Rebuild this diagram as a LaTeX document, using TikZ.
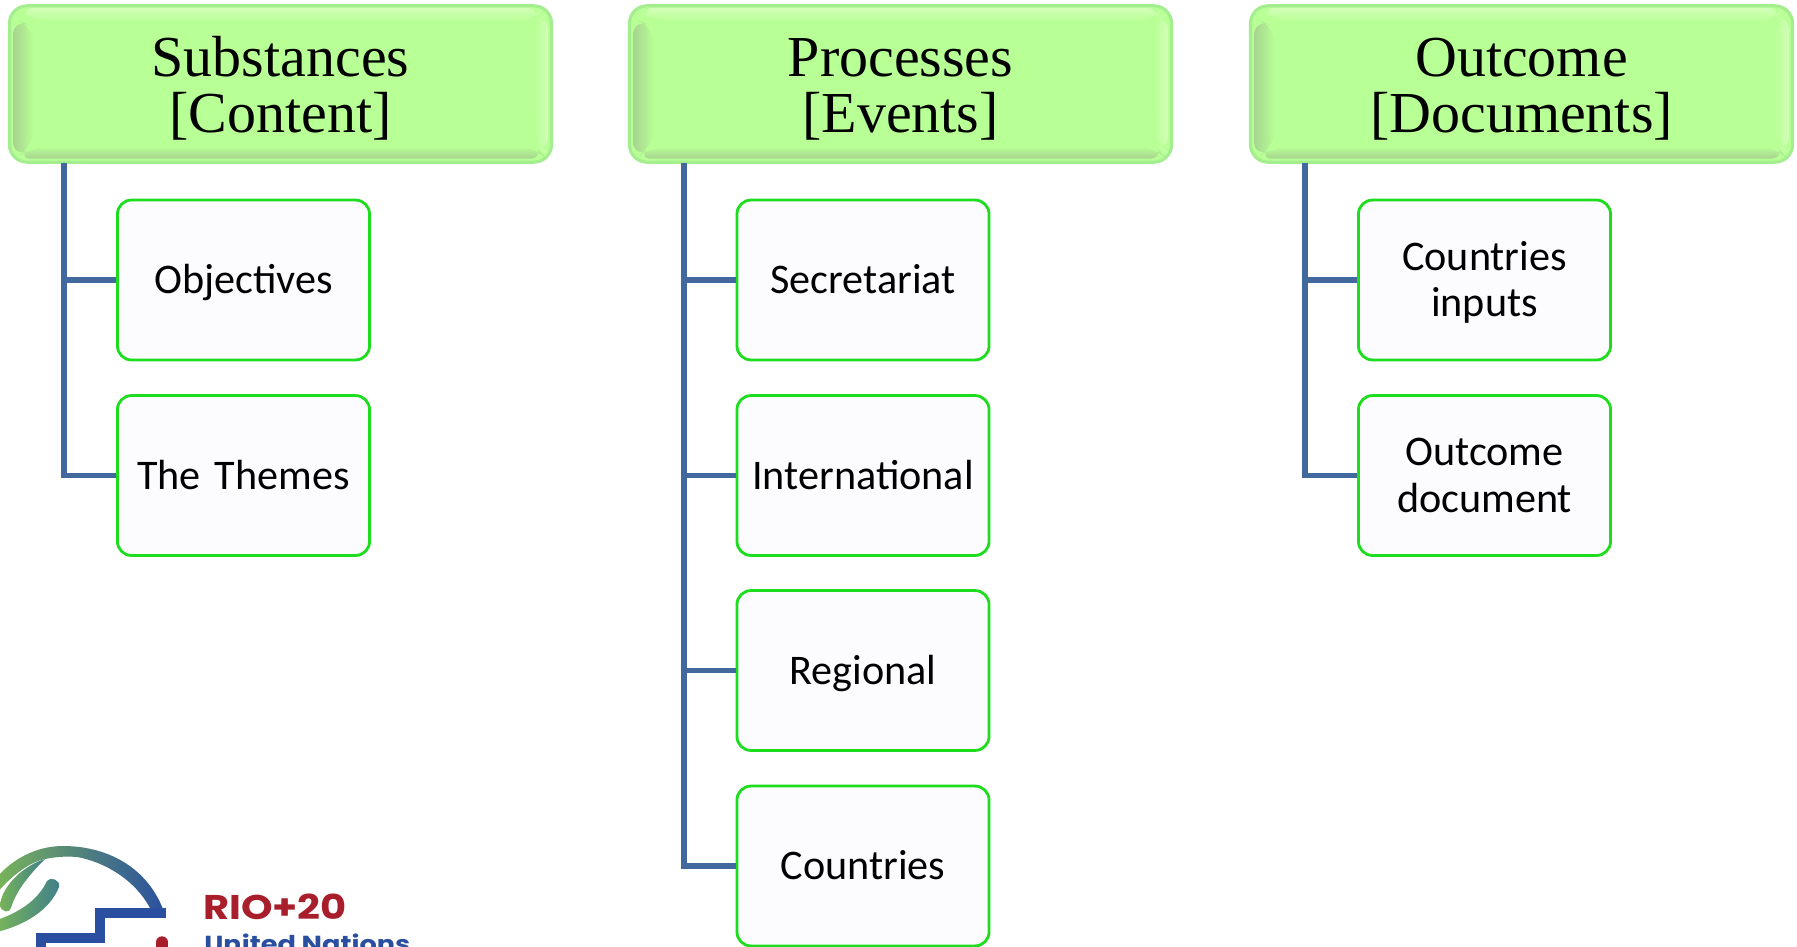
\documentclass[tikz,border=0pt]{standalone}
\usepackage{fontspec}
\setmainfont{Liberation Serif}
\setsansfont{Carlito}
\newfontfamily\logofont[FakeStretch=1.17]{Poppins}
\newcommand\headstrut{\rule{0pt}{28pt}}
\newcommand\itemstrut{\rule[-5pt]{0pt}{25.6pt}}
\definecolor{headfill}{HTML}{B8FF96}
\definecolor{headedge}{HTML}{A4EE90}
\definecolor{headdark}{HTML}{A6D48E}
\definecolor{headlight}{HTML}{D2FFB8}
\definecolor{itemedge}{HTML}{1EDC1E}
\definecolor{itemfill}{HTML}{FCFCFF}
\definecolor{spine}{HTML}{41699E}
\definecolor{logoblue}{HTML}{2A4FA0}
\definecolor{logoteal}{HTML}{3F7F8A}
\definecolor{logogreen}{HTML}{78B45A}
\definecolor{logored}{HTML}{A81E2A}
\tikzset{
  headbox/.style={rounded corners=10pt,fill=headfill,draw=headedge,line width=1.8pt,minimum width=308.5pt,minimum height=89pt,align=center,inner sep=0pt,font=\fontsize{33}{32}\selectfont,
    path picture={
      \coordinate (nw) at (path picture bounding box.north west);
      \coordinate (ne) at (path picture bounding box.north east);
      \coordinate (sw) at (path picture bounding box.south west);
      \coordinate (se) at (path picture bounding box.south east);
      \shade[left color=headdark,right color=headfill] ([shift={(2pt,-7pt)}]nw) -- ([shift={(14pt,-12pt)}]nw) -- ([shift={(14pt,9pt)}]sw) -- ([shift={(2pt,2pt)}]sw) -- cycle;
      \shade[top color=headfill,bottom color=headdark] ([shift={(14pt,9pt)}]sw) -- ([shift={(-9pt,9pt)}]se) -- ([shift={(-3pt,2pt)}]se) -- ([shift={(3pt,2pt)}]sw) -- cycle;
      \shade[top color=headlight,bottom color=headfill] ([shift={(5pt,-1pt)}]nw) -- ([shift={(-5pt,-1pt)}]ne) -- ([shift={(-10pt,-9pt)}]ne) -- ([shift={(14pt,-9pt)}]nw) -- cycle;
      \shade[left color=headfill,right color=headlight] ([shift={(-10pt,-9pt)}]ne) -- ([shift={(-2pt,-4pt)}]ne) -- ([shift={(-2pt,5pt)}]se) -- ([shift={(-9pt,9pt)}]se) -- cycle;
    }},
  itembox/.style={rounded corners=8pt,fill=itemfill,draw=itemedge,line width=1.6pt,minimum height=91pt,text width=143.5pt,align=center,inner sep=0pt,font=\sffamily\fontsize{24}{26.5}\selectfont},
  branch/.style={spine,line width=3.2pt,line cap=butt,line join=miter},
  stairs/.style={logoblue,line width=5.7pt,line cap=butt,line join=miter},
}
\begin{document}
\begin{tikzpicture}[x=0.02cm,y=-0.02cm]
\clip (0,0) rectangle (1797,946);
\useasboundingbox (0,0) rectangle (1797,946);
\fill[white] (0,0) rectangle (1797,946);
% columns
\node[headbox] (substances) at (280.5,84) {\headstrut Substances\\{[}Content{]}};
\node[headbox] (processes) at (900.5,84) {\headstrut Processes\\{[}Events{]}};
\node[headbox] (outcome) at (1521.5,84) {\headstrut Outcome\\{[}Documents{]}};
\node[itembox] (objectives) at (243.5,280) {\itemstrut Objectives};
\node[itembox] (themes) at (243.5,475.5) {\itemstrut The Themes};
\node[itembox] (secretariat) at (863,280) {\itemstrut Secretariat};
\node[itembox] (international) at (863,475.5) {\itemstrut International};
\node[itembox] (regional) at (863,670.5) {\itemstrut Regional};
\node[itembox] (countries) at (863,866) {\itemstrut Countries};
\node[itembox] (inputs) at (1484.5,280) {\itemstrut Countries\\\itemstrut inputs};
\node[itembox] (document) at (1484.5,475.5) {\itemstrut Outcome\\\itemstrut document};
\coordinate (subspine) at (64,163);
\coordinate (prospine) at (684,163);
\coordinate (outspine) at (1305,163);
\draw[branch] (subspine) |- (objectives.west);
\draw[branch] (subspine) |- (themes.west);
\draw[branch] (prospine) |- (secretariat.west);
\draw[branch] (prospine) |- (international.west);
\draw[branch] (prospine) |- (regional.west);
\draw[branch] (prospine) |- (countries.west);
\draw[branch] (outspine) |- (inputs.west);
\draw[branch] (outspine) |- (document.west);
% logo
\shade[left color=logogreen,middle color=logoteal,right color=logoblue]
    (166,918) .. controls (152,870) and (110,846) .. (63,846) .. controls (35,846) and (12,860) .. (-3,877)
    -- (-3,893) .. controls (12,875) and (30,862) .. (45,859) .. controls (55,857) and (65,856) .. (77,857)
    .. controls (105,862) and (135,880) .. (150,908) -- cycle;
\shade[left color=logogreen,right color=logoteal]
    (0,905) .. controls (2,885) and (25,865) .. (45,859) .. controls (32,872) and (16,890) .. (11,908)
    .. controls (10,913) and (1,913) .. (0,905) -- cycle;
\shade[left color=logogreen,right color=logoteal]
    (59,887) .. controls (50,910) and (25,925) .. (-3,932) -- (-3,920) .. controls (20,912) and (38,900) .. (47,881)
    .. controls (50,876) and (61,880) .. (59,887) -- cycle;
\draw[stairs] (41,950) -- (41,938) -- (100,938) -- (100,913) -- (166,913);
\draw[logored,line width=6.5pt,line cap=round] (162,942) -- (162,955);
\node[anchor=west,text=logored,inner sep=0pt,font=\logofont\bfseries\fontsize{19.5}{19.5}\selectfont] (rio) at (203,907) {RIO+20};
\node[anchor=west,text=logoblue,inner sep=0pt,font=\logofont\bfseries\fontsize{13.2}{13.2}\selectfont] (un) at (204,943) {United Nations};
\end{tikzpicture}
\end{document}
